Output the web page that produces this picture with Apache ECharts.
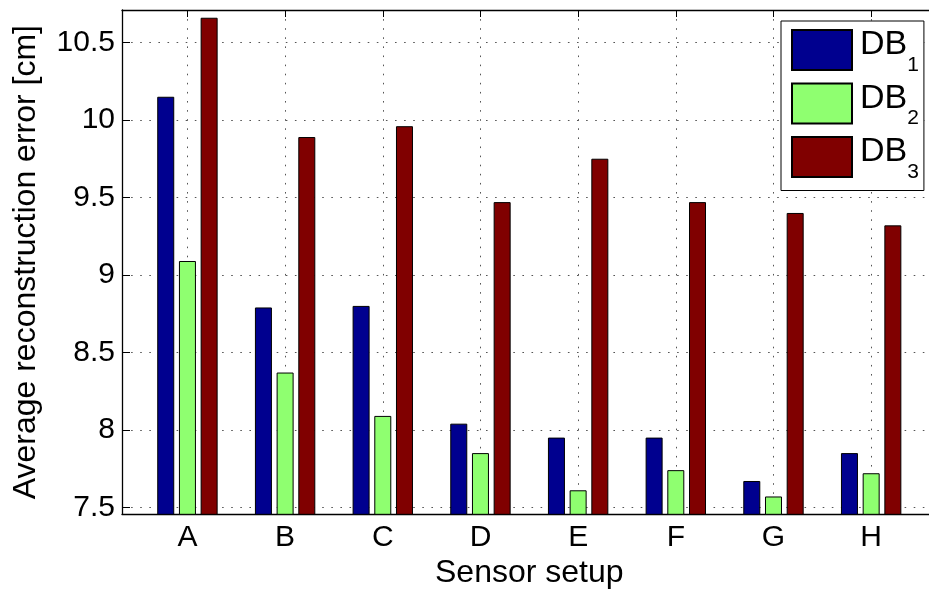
<!DOCTYPE html>
<html>
<head>
<meta charset="utf-8">
<script src="https://cdn.jsdelivr.net/npm/echarts@6/dist/echarts.min.js"></script>
<style>
  html, body { margin: 0; padding: 0; background: #fff; }
  #chart { width: 929px; height: 589px; }
</style>
</head>
<body>
<div id="chart"></div>
<script>
// Sensor setups along the x axis
const categories = ['A', 'B', 'C', 'D', 'E', 'F', 'G', 'H'];
// Average reconstruction error [cm] per database
const db1 = [10.15, 8.79, 8.80, 8.04, 7.95, 7.95, 7.67, 7.85];
const db2 = [9.09, 8.37, 8.09, 7.85, 7.61, 7.74, 7.57, 7.72];
const db3 = [10.66, 9.89, 9.96, 9.47, 9.75, 9.47, 9.40, 9.32];
const seriesNames = ['DB1', 'DB2', 'DB3'];
const seriesColors = ['#00008f', '#8fff70', '#800000'];

const FONT = '"Liberation Sans", Arial, Helvetica, sans-serif';
const gridDots = { color: '#555', width: 1, type: [1.6, 7.5] };

// bars sit at integer positions 1..8 of a value axis
const toPoints = arr => arr.map((v, i) => [i + 1, v]);

const catLabel = v => {
  const k = Math.round(v);
  return Math.abs(v - k) < 1e-6 && k >= 1 && k <= categories.length ? categories[k - 1] : '';
};
const halfLabel = v => {
  return Math.abs(v * 2 - Math.round(v * 2)) < 1e-6 ? String(Math.round(v * 10) / 10) : '';
};

const chart = echarts.init(document.getElementById('chart'), null, { renderer: 'canvas' });

const barSeries = [db1, db2, db3].map((arr, i) => ({
  name: seriesNames[i],
  type: 'bar',
  xAxisIndex: 0,
  yAxisIndex: 0,
  data: toPoints(arr),
  barWidth: 17,
  barGap: '27.6%',
  itemStyle: { color: seriesColors[i], borderColor: '#000', borderWidth: 1 },
  emphasis: { disabled: true },
  animation: false
}));

chart.setOption({
  animation: false,
  backgroundColor: '#fff',
  textStyle: { fontFamily: FONT },
  grid: { left: 122, right: -7.6, top: 10, bottom: 74.7, containLabel: false, outerBoundsMode: 'none' },
  legend: {
    orient: 'vertical',
    left: 781,
    top: 21,
    padding: [6, 5, 8, 10],
    itemWidth: 60,
    itemHeight: 40,
    itemGap: 5,
    icon: 'rect',
    backgroundColor: '#fff',
    borderColor: '#000',
    borderWidth: 1,
    borderRadius: 0,
    selectedMode: false,
    data: seriesNames,
    formatter: name => '{b|' + name.slice(0, 2) + '}{s|' + name.slice(2) + '}',
    textStyle: {
      fontFamily: FONT,
      color: '#000',
      rich: {
        b: { fontFamily: FONT, fontSize: 34, color: '#000', height: 36, lineHeight: 46, verticalAlign: 'top', padding: [0, 0, 0, 3] },
        s: { fontFamily: FONT, fontSize: 21, color: '#000', height: 16, lineHeight: 46, verticalAlign: 'bottom' }
      }
    }
  },
  xAxis: [
    {
      type: 'value',
      position: 'bottom',
      min: 0.33,
      max: 8.67,
      splitNumber: 8,
      name: 'Sensor setup',
      nameLocation: 'middle',
      nameGap: 37,
      nameTextStyle: { fontFamily: FONT, fontSize: 32, color: '#000' },
      axisLine: { show: true, lineStyle: { color: '#000', width: 1.3 } },
      axisTick: { show: true, inside: true, length: 7, lineStyle: { color: '#000' } },
      axisLabel: { formatter: catLabel, fontFamily: FONT, fontSize: 30, color: '#000', margin: 8 },
      splitLine: { show: true, lineStyle: gridDots }
    },
    {
      type: 'value',
      position: 'top',
      min: 0.33,
      max: 8.67,
      splitNumber: 8,
      axisLine: { show: true, lineStyle: { color: '#000', width: 1.3 } },
      axisTick: { show: true, inside: true, length: 7, lineStyle: { color: '#000' } },
      axisLabel: { show: false },
      splitLine: { show: false }
    }
  ],
  yAxis: [
    {
      type: 'value',
      position: 'left',
      min: 7.455,
      max: 10.71,
      splitNumber: 6,
      name: 'Average reconstruction error [cm]',
      nameLocation: 'middle',
      nameGap: 80,
      nameTextStyle: { fontFamily: FONT, fontSize: 32, color: '#000' },
      axisLine: { show: true, lineStyle: { color: '#000', width: 1.3 } },
      axisTick: { show: true, inside: true, length: 8, lineStyle: { color: '#000' } },
      axisLabel: { formatter: halfLabel, fontFamily: FONT, fontSize: 30, color: '#000', margin: 7 },
      splitLine: { show: true, lineStyle: gridDots }
    }
  ],
  series: barSeries
});
</script>
</body>
</html>
